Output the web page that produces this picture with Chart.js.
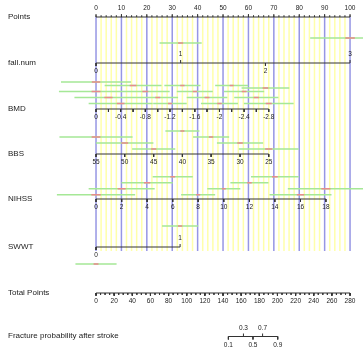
<!DOCTYPE html>
<html>
<head>
<meta charset="utf-8">
<script src="https://cdn.jsdelivr.net/npm/chart.js@4.4.1/dist/chart.umd.min.js"></script>
<style>
  html, body { margin: 0; padding: 0; background: #fff; }
  canvas { display: block; }
</style>
</head>
<body>
<canvas id="nomogram" width="363" height="353"></canvas>
<script>
// values (positions on the 0-100 points scale)
var pointsTicks = [0, 10, 20, 30, 40, 50, 60, 70, 80, 90, 100];

var fallNumLabels = ['0', '1', '2', '3'];
var fallNumPoints = [0, 33.3, 66.7, 100];
var fallNumHalfCI = [13.8, 8.3, 9.4, 15.7];

var bmdLabels = ['0', '', '-0.4', '', '-0.8', '', '-1.2', '', '-1.6', '', '-2', '', '-2.4', '', '-2.8'];
var bmdPoints = [0, 4.9, 9.7, 14.6, 19.4, 24.3, 29.1, 34.0, 38.9, 43.7, 48.6, 53.4, 58.3, 63.1, 68.0];
var bmdHalfCI = [14.6, 13.4, 12.6, 11.2, 9.6, 8.0, 6.6, 7.1, 7.1, 8.0, 7.3, 6.5, 7.9, 8.7, 9.8];

var bbsLabels = ['55', '50', '45', '40', '35', '30', '25'];
var bbsPoints = [0, 11.3, 22.7, 34.0, 45.3, 56.7, 68.0];
var bbsHalfCI = [14.4, 11.3, 8.5, 6.7, 7.1, 9.1, 11.8];

var nihssLabels = ['0', '2', '4', '6', '8', '10', '12', '14', '16', '18'];
var nihssPoints = [0, 10.1, 20.1, 30.2, 40.2, 50.3, 60.4, 70.4, 80.5, 90.5];
var nihssHalfCI = [15.4, 13.0, 10.1, 7.9, 6.7, 6.5, 7.5, 9.4, 12.2, 15.0];

var swwtLabels = ['0', '1'];
var swwtPoints = [0, 33.1];
var swwtHalfCI = [8.1, 7.1];

var totalTicks = [0, 20, 40, 60, 80, 100, 120, 140, 160, 180, 200, 220, 240, 260, 280];
var TOTAL_MAX = 280;

var probLabels = ['0.1', '0.3', '0.5', '0.7', '0.9'];
var probAtTotal = [145.9, 162.5, 173.0, 183.6, 200.3];

// ratio of the 10% to the 70% interval half-width
var CI_RATIO = 0.12;

// layout (rows in pixels from the top)
var ROW = { points: 17, fall: 63, bmd: 109, bbs: 154, nihss: 199, swwt: 247, total: 293, prob: 336.5 };
var fallCIRow = [82, 43, 88, 38];
var fallSide = [1, -1, 1, -1];
var bmdCIRow = [91.5, 97.5, 103.5, 85.5, 91.5, 97.5, 103.5, 85.5, 91.5, 97.5, 103.5, 85.5, 91.5, 97.5, 103.5];
var bbsCIRow = [137, 143, 149, 131, 137, 143, 149];
var nihssCIRow = [194.7, 188.7, 182.7, 176.7, 194.7, 188.7, 182.7, 176.7, 194.7, 188.7];
var swwtCIRow = [264, 226];
var swwtSide = [1, -1];
var probSide = [1, -1, 1, -1, 1];
var GRID_BOTTOM = 251;
var TICK = 3;
var GAP = 8.5;

function toPts(total) { return total * 100 / TOTAL_MAX; }
function all(n, v) { var a = []; for (var i = 0; i < n; i++) a.push(v); return a; }

var axes = [
  { name: 'Points', row: ROW.points, pos: pointsTicks, labels: pointsTicks.map(String), side: all(pointsTicks.length, -1) },
  { name: 'fall.num', row: ROW.fall, pos: fallNumPoints, labels: fallNumLabels, side: fallSide },
  { name: 'BMD', row: ROW.bmd, pos: bmdPoints, labels: bmdLabels, side: all(bmdPoints.length, 1) },
  { name: 'BBS', row: ROW.bbs, pos: bbsPoints, labels: bbsLabels, side: all(bbsPoints.length, 1) },
  { name: 'NIHSS', row: ROW.nihss, pos: nihssPoints, labels: nihssLabels, side: all(nihssPoints.length, 1) },
  { name: 'SWWT', row: ROW.swwt, pos: swwtPoints, labels: swwtLabels, side: swwtSide },
  { name: 'Total Points', row: ROW.total, pos: totalTicks.map(toPts), labels: totalTicks.map(String), side: all(totalTicks.length, 1) },
  { name: 'Fracture probability after stroke', row: ROW.prob, pos: probAtTotal.map(toPts), labels: probLabels, side: probSide }
];

var ciSets = [
  { pos: fallNumPoints, half: fallNumHalfCI, row: fallCIRow },
  { pos: bmdPoints, half: bmdHalfCI, row: bmdCIRow },
  { pos: bbsPoints, half: bbsHalfCI, row: bbsCIRow },
  { pos: nihssPoints, half: nihssHalfCI, row: nihssCIRow },
  { pos: swwtPoints, half: swwtHalfCI, row: swwtCIRow }
];

// segment list -> line data with breaks
function seg(out, x1, y1, x2, y2) {
  out.push({ x: x1, y: y1 }, { x: x2, y: y2 }, { x: x2, y: null });
}

var blueGrid = [], yellowGrid = [];
for (var g = 0; g <= 100; g += 2) {
  if (g % 10 === 0) seg(blueGrid, g, ROW.points, g, GRID_BOTTOM);
  else seg(yellowGrid, g, ROW.points, g, GRID_BOTTOM);
}

var green = [], red = [];
ciSets.forEach(function (s) {
  s.pos.forEach(function (p, i) {
    seg(green, p - s.half[i], s.row[i], p + s.half[i], s.row[i]);
    var h = s.half[i] * CI_RATIO;
    seg(red, p - h, s.row[i], p + h, s.row[i]);
  });
});

var axisLines = [];
axes.forEach(function (a) {
  seg(axisLines, a.pos[0], a.row, a.pos[a.pos.length - 1], a.row);
  a.pos.forEach(function (p, i) {
    seg(axisLines, p, a.row, p, a.row + a.side[i] * TICK);
  });
});
// minor ticks on the points and total points axes
for (var m = 0; m <= 100; m += 2) seg(axisLines, m, ROW.points, m, ROW.points - 1.8);
for (var t = 0; t <= TOTAL_MAX; t += 5) seg(axisLines, toPts(t), ROW.total, toPts(t), ROW.total + 1.8);

// "order": lower numbers are painted on top
function lineSet(data, color, width, order) {
  return { data: data, showLine: true, borderColor: color, borderWidth: width, order: order,
           pointRadius: 0, spanGaps: false };
}

var textPlugin = {
  id: 'nomoText',
  afterDatasetsDraw: function (chart) {
    var ctx = chart.ctx, x = chart.scales.x, y = chart.scales.y;
    ctx.save();
    ctx.fillStyle = '#222';
    ctx.textBaseline = 'middle';
    ctx.textAlign = 'left';
    ctx.font = '8px "Liberation Sans", Arial, sans-serif';
    axes.forEach(function (a) {
      ctx.fillText(a.name, chart.chartArea.left + 8, y.getPixelForValue(a.row - 0.5));
    });
    ctx.textAlign = 'center';
    ctx.font = '6.5px "Liberation Sans", Arial, sans-serif';
    axes.forEach(function (a) {
      a.pos.forEach(function (p, i) {
        if (!a.labels[i]) return;
        ctx.fillText(a.labels[i], x.getPixelForValue(p), y.getPixelForValue(a.row + a.side[i] * GAP));
      });
    });
    ctx.restore();
  }
};

var chart = new Chart(document.getElementById('nomogram'), {
  type: 'scatter',
  data: {
    datasets: [
      lineSet(yellowGrid, 'rgb(255,255,170)', 1.5, 5),
      lineSet(blueGrid, 'rgb(150,150,228)', 1.5, 4),
      lineSet(green, 'rgb(165,232,150)', 1.5, 3),
      lineSet(red, 'rgb(232,140,140)', 1.5, 2),
      lineSet(axisLines, '#333', 1, 1)
    ]
  },
  options: {
    animation: false,
    responsive: false,
    layout: { padding: 0 },
    plugins: { legend: { display: false }, tooltip: { enabled: false } },
    scales: {
      x: { type: 'linear', display: false, min: -37.8, max: 105.1 },
      y: { type: 'linear', display: false, min: 0, max: 353, reverse: true }
    }
  },
  plugins: [textPlugin]
});
</script>
</body>
</html>
